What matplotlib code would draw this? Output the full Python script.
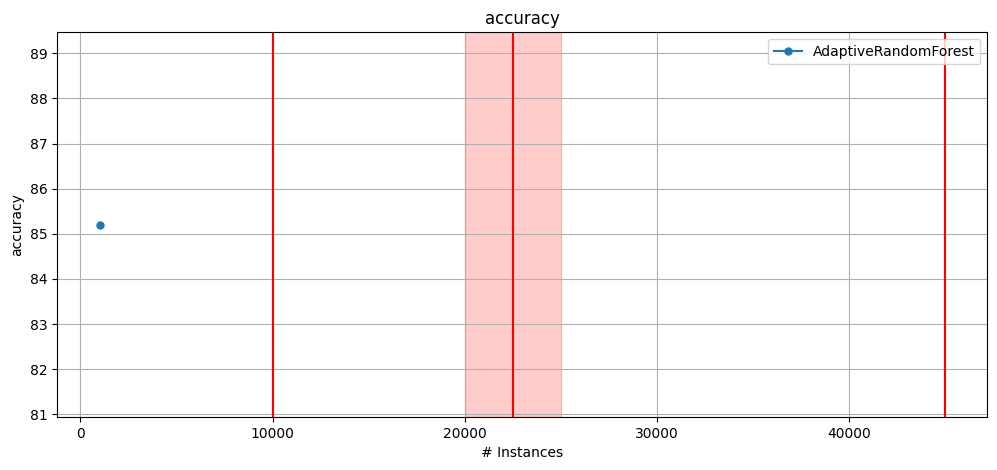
import matplotlib
matplotlib.use("Agg")
import matplotlib.pyplot as plt

instances = [1000]
accuracy = [85.2]
drift_lines = [10000, 22500, 45000]
drift_span = [20000, 25000]
series_name = "AdaptiveRandomForest"

fig, ax = plt.subplots(figsize=(9.97, 4.7), dpi=100)
fig.subplots_adjust(left=0.0575, right=0.9903, top=0.9313, bottom=0.1128)

ax.plot(instances, accuracy, marker="o", markersize=5, label=series_name)
for x in drift_lines:
    ax.axvline(x, color="red")
ax.axvspan(drift_span[0], drift_span[1], color="red", alpha=0.2)

ax.set_xlim(-1200, 47200)
ax.set_ylim(80.94, 89.465)
ax.grid(True)
ax.set_title("accuracy")
ax.set_xlabel("# Instances")
ax.set_ylabel("accuracy")
ax.legend(loc="upper right")

fig.savefig("out.png", dpi=100)
